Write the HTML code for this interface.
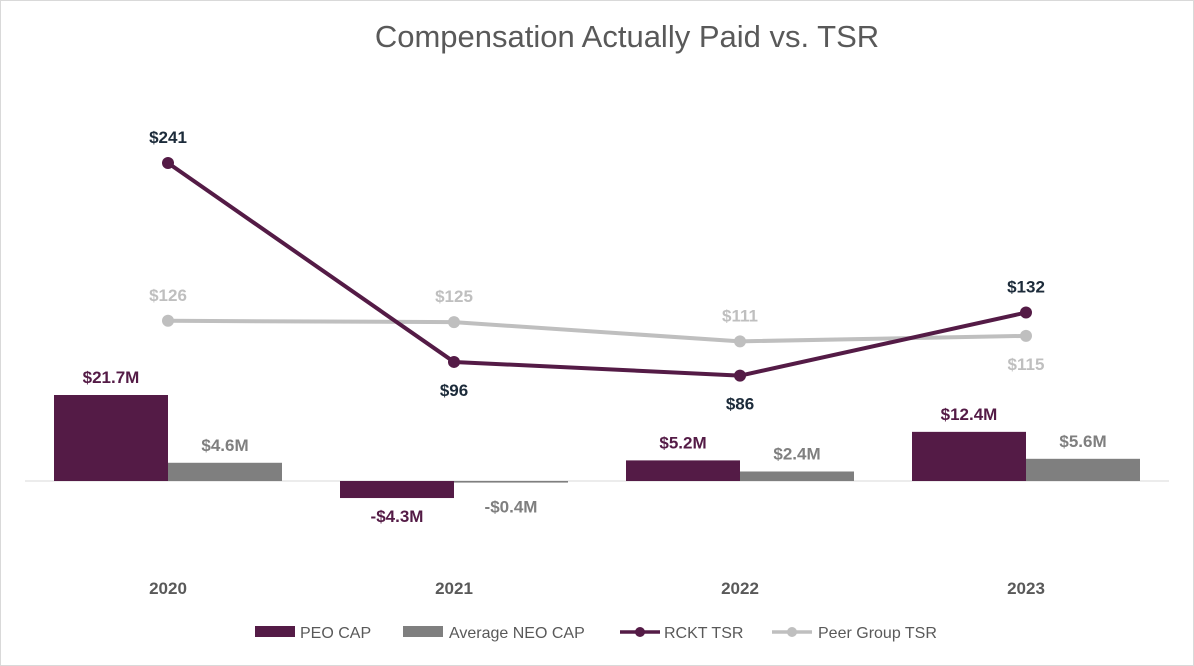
<!DOCTYPE html>
<html><head><meta charset="utf-8"><style>
body{margin:0;background:#fff;font-family:"Liberation Sans",Arial,sans-serif}
svg{display:block}
</style></head><body>
<svg id="chart" width="1194" height="666" viewBox="0 0 1194 666">
<rect x="0.5" y="0.5" width="1193" height="665" fill="#fff" stroke="#d9d9d9"/>
<text x="627" y="47" text-anchor="middle" font-size="31" fill="#595959">Compensation Actually Paid vs. TSR</text>
<line x1="25" y1="481" x2="1169" y2="481" stroke="#d9d9d9" stroke-width="1"/>
<g id="bars"></g><g id="lines"></g><g id="labels"></g><g id="xaxis"></g>
<g>
<rect x="255" y="626" width="40" height="11" fill="#541B46"/>
<text x="300" y="638" font-size="16" fill="#595959">PEO CAP</text>
<rect x="403" y="626" width="40" height="11" fill="#7F7F7F"/>
<text x="449" y="638" font-size="16" fill="#595959">Average NEO CAP</text>
<line x1="620" y1="632" x2="660" y2="632" stroke="#541B46" stroke-width="3.5"/>
<circle cx="640" cy="632" r="5" fill="#541B46"/>
<text x="664" y="638" font-size="16" fill="#595959">RCKT TSR</text>
<line x1="772" y1="632" x2="812" y2="632" stroke="#BFBFBF" stroke-width="3.5"/>
<circle cx="792" cy="632" r="5" fill="#BFBFBF"/>
<text x="818" y="638" font-size="16" fill="#595959">Peer Group TSR</text>
</g>
</svg>
<script>
const categories = ["2020","2021","2022","2023"];
const peoCap = [21.7,-4.3,5.2,12.4];
const neoCap = [4.6,-0.4,2.4,5.6];
const rcktTsr = [241,96,86,132];
const peerTsr = [126,125,111,115];
const rcktLabelBelow = [false,true,true,false];
const peerLabelBelow = [false,false,false,true];

const NS="http://www.w3.org/2000/svg";
const xC = i => 168 + i*286;
const yBar = v => 481 - v*3.963;
const yTsr = v => 163 + (241 - v)*1.372;
function mk(tag, attrs, parent){const e=document.createElementNS(NS,tag);for(const k in attrs)e.setAttribute(k,attrs[k]);document.getElementById(parent).appendChild(e);return e;}
const fmtM = v => (v<0?"-$":"$")+Math.abs(v).toFixed(1)+"M";

categories.forEach((c,i)=>{
  const x=xC(i);
  let y0=yBar(0), y1=yBar(peoCap[i]);
  let r=mk("rect",{x:x-114,y:Math.min(y0,y1),width:114,height:Math.max(1,Math.abs(y1-y0)),fill:"#541B46"},"bars");
  
  
  let y2=yBar(neoCap[i]);
  r=mk("rect",{x:x,y:Math.min(y0,y2),width:114,height:Math.max(1.5,Math.abs(y2-y0)),fill:"#7F7F7F"},"bars");
  
  
  let t=mk("text",{x:x-57,y:peoCap[i]>=0?y1-12:y1+24,"text-anchor":"middle","font-size":"17","font-weight":"bold",fill:"#541B46"},"labels");
  t.textContent=fmtM(peoCap[i]);
  
  
  t=mk("text",{x:x+57,y:neoCap[i]>=0?y2-12:y2+30,"text-anchor":"middle","font-size":"17","font-weight":"bold",fill:"#7F7F7F"},"labels");
  t.textContent=fmtM(neoCap[i]);
  
  
  t=mk("text",{x:x,y:594,"text-anchor":"middle","font-size":"17","font-weight":"bold",fill:"#595959"},"xaxis");
  t.textContent=c;
  
  
});
function series(vals,color,name,below,lblColor){
  const pts=vals.map((v,i)=>xC(i)+","+yTsr(v)).join(" ");
  const p=mk("polyline",{points:pts,fill:"none",stroke:color,"stroke-width":"4","stroke-linejoin":"round"},"lines");
  
  
  vals.forEach((v,i)=>{
    const c=mk("circle",{cx:xC(i),cy:yTsr(v),r:6,fill:color},"lines");
    
    
    const t=mk("text",{x:xC(i),y:below[i]?yTsr(v)+34:yTsr(v)-20,"text-anchor":"middle","font-size":"17","font-weight":"bold",fill:lblColor},"labels");
    t.textContent="$"+v;
    
    
  });
}
series(peerTsr,"#BFBFBF","peer-tsr",peerLabelBelow,"#BFBFBF");
series(rcktTsr,"#541B46","rckt-tsr",rcktLabelBelow,"#1C2B3A");
</script>
</body></html>
